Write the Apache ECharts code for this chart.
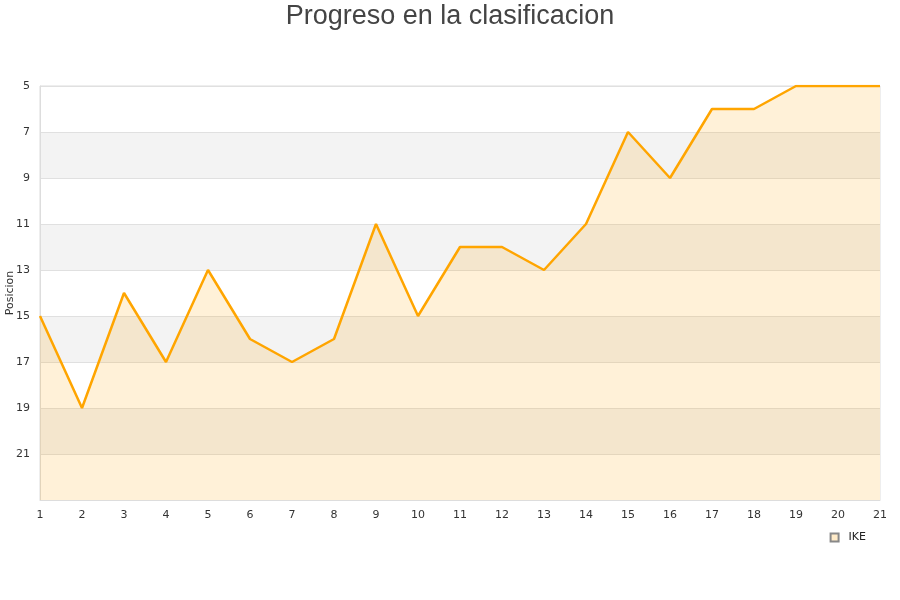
<!DOCTYPE html>
<html>
<head>
<meta charset="utf-8">
<script src="https://cdn.jsdelivr.net/npm/echarts@6/dist/echarts.min.js"></script>
<style>html,body{margin:0;padding:0;background:#fff}#c{width:900px;height:600px}</style>
</head>
<body>
<div id="c"></div>
<script>
var jornadas = ['1','2','3','4','5','6','7','8','9','10','11','12','13','14','15','16','17','18','19','20','21'];
var posiciones = [15,19,14,17,13,16,17,16,11,15,12,12,13,11,7,9,6,6,5,5,5];
var seriesName = 'IKE';
var chart = echarts.init(document.getElementById('c'));
chart.setOption({
  animation: false,
  title: {
    text: 'Progreso en la clasificacion',
    left: 'center',
    top: -2,
    textStyle: {fontFamily: 'Liberation Sans', fontSize: 27, fontWeight: 'normal', color: '#444'}
  },
  legend: {
    data: [{name: seriesName, icon: 'rect'}],
    right: 29,
    top: 527,
    itemWidth: 8,
    itemHeight: 8,
    textStyle: {fontFamily: 'DejaVu Sans', fontSize: 11, color: '#222', padding: [0, 0, 0, 5]}
  },
  grid: {left: 40, right: 20, top: 86, bottom: 100, show: true, borderColor: '#ddd', borderWidth: 1, backgroundColor: 'transparent', containLabel: false, outerBoundsMode: 'none'},
  xAxis: {
    type: 'category',
    data: jornadas,
    boundaryGap: false,
    axisLine: {lineStyle: {color: '#ddd'}},
    axisTick: {show: false},
    axisLabel: {fontFamily: 'DejaVu Sans', fontSize: 11, color: '#333', margin: 10},
    splitLine: {show: false}
  },
  yAxis: {
    type: 'value',
    inverse: true,
    min: 5,
    max: 23,
    interval: 2,
    name: 'Posicion',
    nameLocation: 'middle',
    nameRotate: 90,
    nameGap: 24,
    nameMoveOverlap: false,
    nameTextStyle: {fontFamily: 'DejaVu Sans', fontSize: 11, color: '#333'},
    axisLine: {show: true, lineStyle: {color: '#ddd'}},
    axisTick: {show: false},
    axisLabel: {
      fontFamily: 'DejaVu Sans', fontSize: 11, color: '#333', margin: 10,
      formatter: function (v) { return v === 23 ? '' : String(v); }
    },
    splitLine: {show: true, lineStyle: {color: '#e0e0e0'}},
    splitArea: {show: true, areaStyle: {color: ['#ffffff', '#f3f3f3']}}
  },
  series: [{
    name: seriesName,
    type: 'line',
    data: posiciones,
    symbol: 'none',
    lineStyle: {color: '#FFA500', width: 2.5},
    itemStyle: {color: '#FFEBC8', borderColor: '#888', borderWidth: 1},
    areaStyle: {color: 'rgba(255,165,0,0.22)', origin: 'end'}
  }]
});
</script>
</body>
</html>
